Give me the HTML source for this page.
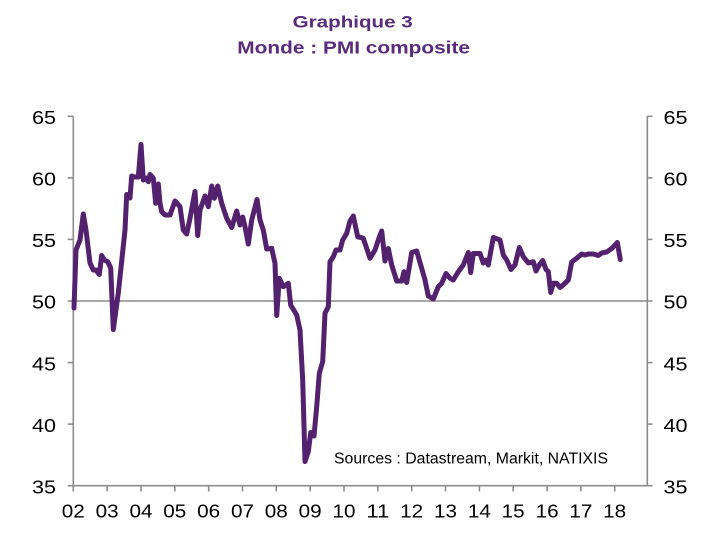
<!DOCTYPE html>
<html>
<head>
<meta charset="utf-8">
<style>
  html, body { margin: 0; padding: 0; background: #ffffff; }
  body { width: 708px; height: 543px; overflow: hidden; }
  svg { display: block; }
  text { font-family: "Liberation Sans", Arial, sans-serif; }
</style>
</head>
<body>
<svg width="708" height="543" viewBox="0 0 708 543" xmlns="http://www.w3.org/2000/svg">
  <rect width="708" height="543" fill="#ffffff"/>

  <!-- Title -->
  <text x="292.7" y="27.7" font-size="17" font-weight="bold" fill="#5a2a7c" textLength="120" lengthAdjust="spacingAndGlyphs">Graphique 3</text>
  <text x="237.3" y="53.3" font-size="17.5" font-weight="bold" fill="#5a2a7c" textLength="232.7" lengthAdjust="spacingAndGlyphs">Monde : PMI composite</text>

  <!-- 50 gridline -->
  <line x1="73.3" y1="301" x2="647.3" y2="301" stroke="#8c8c8c" stroke-width="1.6"/>

  <!-- Left axis -->
  <g stroke="#8c8c8c" stroke-width="1.6">
    <line x1="73.3" y1="116.3" x2="73.3" y2="485.7"/>
    <line x1="67.7" y1="116.3" x2="73.3" y2="116.3"/>
    <line x1="67.7" y1="177.9" x2="73.3" y2="177.9"/>
    <line x1="67.7" y1="239.4" x2="73.3" y2="239.4"/>
    <line x1="67.7" y1="301" x2="73.3" y2="301"/>
    <line x1="67.7" y1="362.6" x2="73.3" y2="362.6"/>
    <line x1="67.7" y1="424.1" x2="73.3" y2="424.1"/>
    <line x1="67.7" y1="485.7" x2="73.3" y2="485.7"/>
  </g>
  <!-- Right axis -->
  <g stroke="#8c8c8c" stroke-width="1.6">
    <line x1="647.3" y1="116.3" x2="647.3" y2="485.7"/>
    <line x1="647.3" y1="116.3" x2="652.5" y2="116.3"/>
    <line x1="647.3" y1="177.9" x2="652.5" y2="177.9"/>
    <line x1="647.3" y1="239.4" x2="652.5" y2="239.4"/>
    <line x1="647.3" y1="301" x2="652.5" y2="301"/>
    <line x1="647.3" y1="362.6" x2="652.5" y2="362.6"/>
    <line x1="647.3" y1="424.1" x2="652.5" y2="424.1"/>
    <line x1="647.3" y1="485.7" x2="652.5" y2="485.7"/>
  </g>
  <!-- X axis -->
  <g stroke="#8c8c8c" stroke-width="1.6">
    <line x1="73.3" y1="485.7" x2="647.3" y2="485.7"/>
    <line x1="73.3" y1="485.7" x2="73.3" y2="491.5"/>
    <line x1="107.1" y1="485.7" x2="107.1" y2="491.5"/>
    <line x1="141.0" y1="485.7" x2="141.0" y2="491.5"/>
    <line x1="174.8" y1="485.7" x2="174.8" y2="491.5"/>
    <line x1="208.7" y1="485.7" x2="208.7" y2="491.5"/>
    <line x1="242.5" y1="485.7" x2="242.5" y2="491.5"/>
    <line x1="276.3" y1="485.7" x2="276.3" y2="491.5"/>
    <line x1="310.2" y1="485.7" x2="310.2" y2="491.5"/>
    <line x1="344.0" y1="485.7" x2="344.0" y2="491.5"/>
    <line x1="377.9" y1="485.7" x2="377.9" y2="491.5"/>
    <line x1="411.7" y1="485.7" x2="411.7" y2="491.5"/>
    <line x1="445.5" y1="485.7" x2="445.5" y2="491.5"/>
    <line x1="479.4" y1="485.7" x2="479.4" y2="491.5"/>
    <line x1="513.2" y1="485.7" x2="513.2" y2="491.5"/>
    <line x1="547.1" y1="485.7" x2="547.1" y2="491.5"/>
    <line x1="580.9" y1="485.7" x2="580.9" y2="491.5"/>
    <line x1="614.7" y1="485.7" x2="614.7" y2="491.5"/>
  </g>

  <!-- Left labels -->
  <g font-size="18.5" fill="#000">
    <text x="32" y="124" textLength="24" lengthAdjust="spacingAndGlyphs">65</text>
    <text x="32" y="185.6" textLength="24" lengthAdjust="spacingAndGlyphs">60</text>
    <text x="32" y="247.1" textLength="24" lengthAdjust="spacingAndGlyphs">55</text>
    <text x="32" y="308.7" textLength="24" lengthAdjust="spacingAndGlyphs">50</text>
    <text x="32" y="370.3" textLength="24" lengthAdjust="spacingAndGlyphs">45</text>
    <text x="32" y="431.8" textLength="24" lengthAdjust="spacingAndGlyphs">40</text>
    <text x="32" y="493.4" textLength="24" lengthAdjust="spacingAndGlyphs">35</text>
  </g>
  <!-- Right labels -->
  <g font-size="18.5" fill="#000">
    <text x="663.5" y="124" textLength="24" lengthAdjust="spacingAndGlyphs">65</text>
    <text x="663.5" y="185.6" textLength="24" lengthAdjust="spacingAndGlyphs">60</text>
    <text x="663.5" y="247.1" textLength="24" lengthAdjust="spacingAndGlyphs">55</text>
    <text x="663.5" y="308.7" textLength="24" lengthAdjust="spacingAndGlyphs">50</text>
    <text x="663.5" y="370.3" textLength="24" lengthAdjust="spacingAndGlyphs">45</text>
    <text x="663.5" y="431.8" textLength="24" lengthAdjust="spacingAndGlyphs">40</text>
    <text x="663.5" y="493.4" textLength="24" lengthAdjust="spacingAndGlyphs">35</text>
  </g>
  <!-- X labels -->
  <g font-size="18.5" fill="#000">
    <text x="61.8" y="517.3" textLength="23" lengthAdjust="spacingAndGlyphs">02</text>
    <text x="95.6" y="517.3" textLength="23" lengthAdjust="spacingAndGlyphs">03</text>
    <text x="129.5" y="517.3" textLength="23" lengthAdjust="spacingAndGlyphs">04</text>
    <text x="163.3" y="517.3" textLength="23" lengthAdjust="spacingAndGlyphs">05</text>
    <text x="197.2" y="517.3" textLength="23" lengthAdjust="spacingAndGlyphs">06</text>
    <text x="231.0" y="517.3" textLength="23" lengthAdjust="spacingAndGlyphs">07</text>
    <text x="264.8" y="517.3" textLength="23" lengthAdjust="spacingAndGlyphs">08</text>
    <text x="298.7" y="517.3" textLength="23" lengthAdjust="spacingAndGlyphs">09</text>
    <text x="332.5" y="517.3" textLength="23" lengthAdjust="spacingAndGlyphs">10</text>
    <text x="366.4" y="517.3" textLength="23" lengthAdjust="spacingAndGlyphs">11</text>
    <text x="400.2" y="517.3" textLength="23" lengthAdjust="spacingAndGlyphs">12</text>
    <text x="434.0" y="517.3" textLength="23" lengthAdjust="spacingAndGlyphs">13</text>
    <text x="467.9" y="517.3" textLength="23" lengthAdjust="spacingAndGlyphs">14</text>
    <text x="501.7" y="517.3" textLength="23" lengthAdjust="spacingAndGlyphs">15</text>
    <text x="535.6" y="517.3" textLength="23" lengthAdjust="spacingAndGlyphs">16</text>
    <text x="569.4" y="517.3" textLength="23" lengthAdjust="spacingAndGlyphs">17</text>
    <text x="603.2" y="517.3" textLength="23" lengthAdjust="spacingAndGlyphs">18</text>
  </g>

  <!-- Sources -->
  <text x="334" y="463.3" font-size="15.5" fill="#000" textLength="274" lengthAdjust="spacingAndGlyphs">Sources : Datastream, Markit, NATIXIS</text>

  <!-- PMI series -->
  <polyline fill="none" stroke="#54216f" stroke-width="5" stroke-linejoin="round" stroke-linecap="round" points="
74,308 76,250 80,240 83.3,214 86,230 90,263 93.3,270 96,270 99.3,274.5 101.7,255.5 104.3,260 107.7,261.7 110.7,268 113.3,329.5
118.3,293 125,230 126.7,194.5 130,198 131.7,176 135,177 138.3,177 141,144.5 143.3,180 146,178 148.3,181.7 150,174.5 153.3,178.3
155.7,203.3 158.3,184 160,203.3 161.7,211.7 165,215 170,215 175,201 180,206.7 183.3,230 186.7,234 190,218.3 195,191.5
197.7,235.5 200,210 205,196 208.3,206.7 211.7,186 214.3,198.3 217.7,186 221.7,203.3 226.7,218.3 231.7,227.5 236.7,211
240,225 242.7,217 245,226.7 248.3,244 251.7,220 257,199.5 260,220 263.3,230 266.7,249 271.7,248.3 275,263.3 276.7,315.5
279.3,278.3 283.3,286.7 288.3,283.3 290.7,305 296.7,315 300,330 302.7,380 305,461.5 308.3,451.7 310.7,432.5 314,436
316.7,406.7 319.3,373.3 322.7,361.7 325,313.3 328.3,306.7 330,261.7 333.3,256.7 336,250 340,250 342.7,240 346.7,233.3
350,221 353.3,216 357.7,236.7 363.3,238.3 370,258.3 375,250 379.3,237 381.7,231 385,261 388.3,248.5 391.7,265 396.7,281
401.7,281 404,271.7 406.7,282.5 411.7,252.5 416.7,251 421.7,268.3 425,280 428.3,296 433.3,299 438.3,286.7 441.7,283.3
446,273.5 450,278.3 453.3,280 458.3,271.7 463.3,265 468.3,252.5 470.7,272.5 473.3,253.5 480,253.5 483.3,263 486,260
488.3,265 493.3,237.5 500,240 503.3,255 506.7,260 511,269.5 515,265 519.3,247.5 523.3,256.7 528.3,263 533.3,261.7 536,271
539.3,265 542.7,260.5 546,269.5 548.3,271.5 550.7,292.5 553.3,283.3 556.7,283.3 560,287.5 565,283.3 568.3,280 571.7,262
576.7,258.3 581.7,254 585,255 588.3,254 593.3,254 598.3,255.5 601.7,253 606.7,252 611.7,248.5 617.3,242.5 620.3,259.5"/>
</svg>
</body>
</html>
